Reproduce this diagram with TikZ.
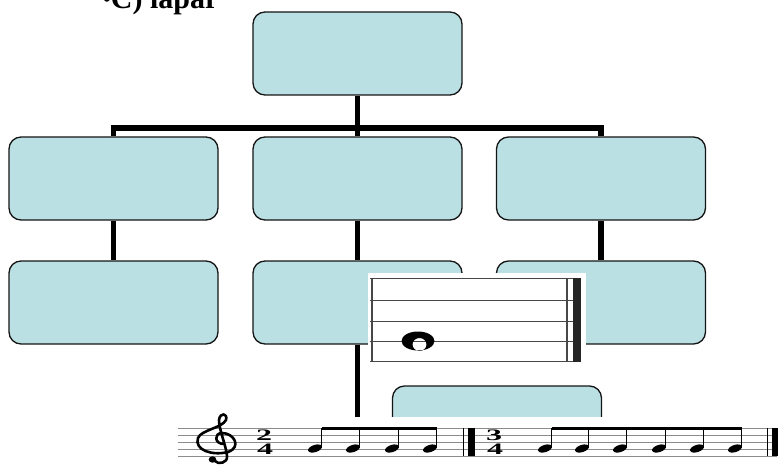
\documentclass[tikz,border=0pt]{standalone}
\usepackage{fontspec}
\setmainfont{Liberation Serif}
\definecolor{boxfill}{HTML}{BBE0E3}
\definecolor{boxline}{HTML}{151515}
\begin{document}
\begin{tikzpicture}[x=1pt,y=-1pt,
  box/.style={draw=boxline, line width=1.3pt, fill=boxfill, rounded corners=12pt,
    minimum width=209pt, minimum height=83pt, inner sep=0pt},
  conn/.style={line width=5.5pt, black},
  staffA/.style={line width=1.4pt, black!72},
  staffB/.style={line width=0.9pt, black!45},
  stemline/.style={line width=1pt, black},
  tsig/.style={inner sep=0pt, xscale=2, font=\fontsize{16}{16}\selectfont\bfseries}]
\useasboundingbox (0,0) rectangle (778,465);

% boxes
\node[box] (top) at (357.5,53.5) {};
\node[box] (l2) at (113.5,178.5) {};
\node[box] (m2) at (357.5,178.5) {};
\node[box] (r2) at (601,178.5) {};
\node[box] (l3) at (113.5,302.5) {};
\node[box] (m3) at (357.5,302.5) {};
\node[box] (r3) at (601,302.5) {};
\node[box] (bot) at (497,427.5) {};

% connectors
\coordinate (barR) at (601,128);
\draw[conn] (l2.north) |- (barR) -- (r2.north);
\draw[conn] (top.south) -- (m2.north);
\draw[conn] (l2.south) -- (l3.north);
\draw[conn] (m2.south) -- (m3.north);
\draw[conn] (r2.south) -- (r3.north);
\draw[conn] (m3.south) |- (bot.west);

% title
\node[anchor=base west, inner sep=0pt, font=\fontsize{30}{30}\selectfont\bfseries] (title) at (103,9)
  {{\fontsize{22}{22}\selectfont\raisebox{2pt}{•}}C) lapar};

% middle staff picture
\fill[white] (368,273) rectangle (586,369);
\foreach \y in {278.3,300.7,321.7,341.7,361.7} \draw[staffA] (370,\y) -- (580,\y);
\draw[staffA] (372,278.3) -- (372,361.7);
\draw[staffA] (567,278.3) -- (567,361.7);
\fill[black!85] (573,278.3) rectangle (580.5,361.7);
\fill[black, even odd rule] (418,341) ellipse [x radius=16.5, y radius=9.5]
  (419.5,344.5) ellipse [x radius=7, y radius=6.5];

% bottom music
\fill[white] (176,417) rectangle (778,465);
\foreach \y in {428,435,442,449,456} \draw[staffB] (178,\y) -- (777,\y);
% treble clef
\draw[line width=2.6pt, line cap=round, line join=round]
  (224,444) .. controls (214,444) and (214,433) .. (222,433)
  .. controls (234,433) and (242,447) .. (228,452)
  .. controls (212,456) and (194,450) .. (198,438)
  .. controls (201,430) and (222,428) .. (226,420)
  .. controls (228,413) and (220,412) .. (219,420)
  .. controls (219,430) and (226,445) .. (227,456)
  .. controls (228,463) and (218,465) .. (215,461);
\fill (212.5,459.5) ellipse [x radius=3.8, y radius=3.2];
% time signatures
\node[tsig] (t1a) at (264,435.5) {2};
\node[tsig] (t1b) at (265,449) {4};
\node[tsig] (t2a) at (494,435.5) {3};
\node[tsig] (t2b) at (495,449) {4};
% notes
\foreach \x in {315,353,392,430,545,582,620,659,697,735} {
  \fill[rotate around={18:(\x,448.5)}] (\x,448.5) ellipse [x radius=7.2, y radius=3.6];
  \draw[stemline] (\x+6.5,447) -- (\x+6.5,428);
}
\fill (321.5,427) rectangle (437,430);
\fill (551.5,427) rectangle (742,430);
% barlines
\draw[line width=1pt] (463,428) -- (463,456);
\fill (468,428) rectangle (475,456);
\draw[line width=1pt] (767,428) -- (767,456);
\fill (772,428) rectangle (777.5,456);
\end{tikzpicture}
\end{document}
